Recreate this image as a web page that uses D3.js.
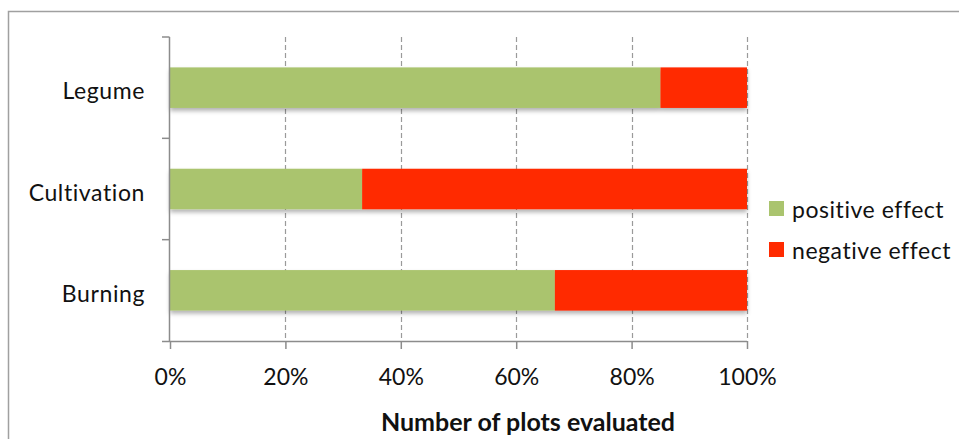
<!DOCTYPE html>
<html>
<head>
<meta charset="utf-8">
<script src="https://cdn.jsdelivr.net/npm/d3@7"></script>
<style>
  html, body { margin: 0; padding: 0; background: #fff; }
  svg { display: block; font-family: Lato, "Open Sans", sans-serif; }
</style>
</head>
<body>
<svg id="chart" width="959" height="439"></svg>
<script>
// Share of plots per practice (fractions of 100%)
const categories = ["Legume", "Cultivation", "Burning"];
const positiveEffect = [0.85, 0.333, 0.667];
const negativeEffect = [0.15, 0.667, 0.333];
const seriesNames = ["positive effect", "negative effect"];
const tickValues = [0, 0.2, 0.4, 0.6, 0.8, 1.0];
const axisTitle = "Number of plots evaluated";

const colors = { "positive effect": "#aac46e", "negative effect": "#ff2a00" };

const svg = d3.select("#chart");

// chart frame
svg.append("path")
  .attr("d", "M8.5,439 L8.5,11.5 L959,11.5")
  .attr("fill", "none")
  .attr("stroke", "#a0a0a0")
  .attr("stroke-width", 1.5);

const x = d3.scaleLinear().domain([0, 1]).range([170, 747]);
const y = d3.scaleBand().domain(categories).range([37, 341]).paddingInner(0.6).paddingOuter(0.3);

// soft shadow under bars
const defs = svg.append("defs");
const f = defs.append("filter").attr("id", "shadow")
  .attr("x", "-5%").attr("y", "-20%").attr("width", "110%").attr("height", "160%");
f.append("feDropShadow").attr("dx", 0).attr("dy", 3).attr("stdDeviation", 2)
  .attr("flood-color", "#000").attr("flood-opacity", 0.3);

// dashed gridlines
svg.append("g").selectAll("line")
  .data(tickValues.filter(d => d > 0))
  .join("line")
  .attr("x1", d => Math.round(x(d)) + 0.5)
  .attr("x2", d => Math.round(x(d)) + 0.5)
  .attr("y1", 37).attr("y2", 341)
  .attr("stroke", "#9a9a9a")
  .attr("stroke-width", 1.2)
  .attr("stroke-dasharray", "5,3");

// stacked bars
const stackData = categories.map((c, i) => ({
  category: c,
  "positive effect": positiveEffect[i],
  "negative effect": negativeEffect[i]
}));
const stacked = d3.stack().keys(seriesNames)(stackData);

const barGroup = svg.append("g").attr("filter", "url(#shadow)");
barGroup.selectAll("g")
  .data(stacked)
  .join("g")
  .attr("fill", d => colors[d.key])
  .selectAll("rect")
  .data(d => d)
  .join("rect")
  .attr("x", d => x(d[0]))
  .attr("width", d => x(d[1]) - x(d[0]))
  .attr("y", d => y(d.data.category))
  .attr("height", y.bandwidth());

// y axis: line with ticks at band boundaries
const yAxisG = svg.append("g");
yAxisG.append("line")
  .attr("x1", 169.5).attr("x2", 169.5).attr("y1", 37).attr("y2", 341)
  .attr("stroke", "#8c8c8c").attr("stroke-width", 1.5);
const boundaries = categories.map((c, i) => 37 + i * (304 / categories.length));
yAxisG.selectAll("line.tick")
  .data(boundaries)
  .join("line")
  .attr("class", "tick")
  .attr("x1", 162).attr("x2", 169.5)
  .attr("y1", d => d).attr("y2", d => d)
  .attr("stroke", "#8c8c8c").attr("stroke-width", 1.5);
yAxisG.selectAll("text")
  .data(categories)
  .join("text")
  .attr("x", 145)
  .attr("y", d => y(d) + y.bandwidth() / 2 + 11.5)
  .attr("text-anchor", "end")
  .attr("font-size", 23)
  .attr("letter-spacing", 0.6)
  .attr("fill", "#111")
  .text(d => d);

// x axis
const xAxis = d3.axisBottom(x)
  .tickValues(tickValues)
  .tickFormat(d3.format(".0%"))
  .tickSize(8)
  .tickPadding(14);
const xg = svg.append("g").attr("transform", "translate(0,341)").call(xAxis);
xg.select(".domain").attr("stroke", "#8c8c8c").attr("stroke-width", 1.5)
  .attr("d", "M162,0.5H" + x(1));
xg.selectAll(".tick line").attr("stroke", "#8c8c8c").attr("stroke-width", 1.5);
xg.selectAll(".tick text")
  .attr("y", 44)
  .attr("dy", null)
  .attr("font-size", 23)
  .attr("font-family", "Lato, 'Open Sans', sans-serif")
  .attr("fill", "#111");

// axis title
svg.append("text")
  .attr("x", 528).attr("y", 431)
  .attr("text-anchor", "middle")
  .attr("font-size", 25)
  .attr("font-weight", "bold")
  .attr("fill", "#111")
  .text(axisTitle);

// legend
const legend = svg.append("g");
const leg = legend.selectAll("g")
  .data(seriesNames)
  .join("g")
  .attr("transform", (d, i) => `translate(769,${201 + i * 41})`);
leg.append("rect").attr("width", 15).attr("height", 15).attr("fill", d => colors[d]);
leg.append("text")
  .attr("x", 23).attr("y", 17)
  .attr("font-size", 23)
  .attr("letter-spacing", 0.55)
  .attr("fill", "#111")
  .text(d => d);
</script>
</body>
</html>
